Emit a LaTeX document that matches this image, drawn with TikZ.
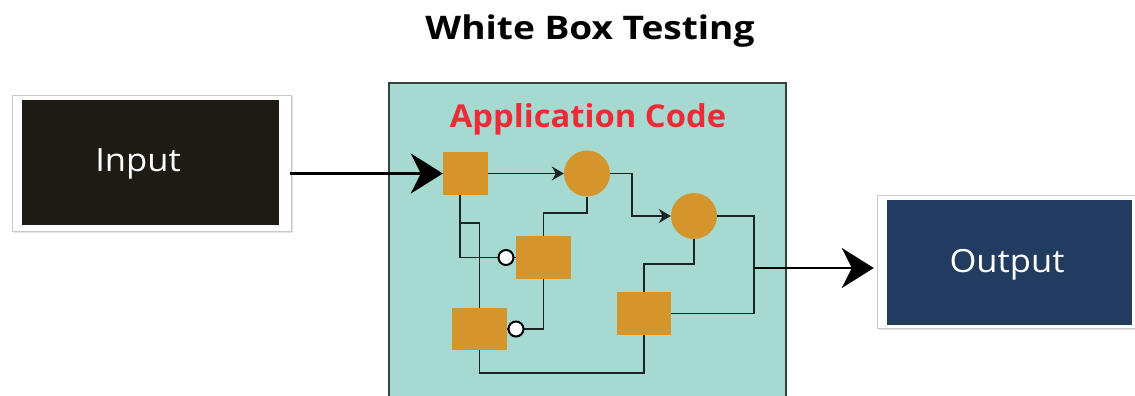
\documentclass[tikz,border=0pt]{standalone}
\usepackage{fontspec}
\setmainfont{Open Sans}
\newfontfamily\titlefont[FakeStretch=1.14]{Open Sans}
\newfontfamily\labelfont[FakeStretch=1.08]{Open Sans}
\newfontfamily\codefont[FakeStretch=1.04]{Open Sans}
\usetikzlibrary{arrows.meta,calc}
\definecolor{inbg}{HTML}{1E1B14}
\definecolor{outbg}{HTML}{213C5E}
\definecolor{panel}{HTML}{A6DAD0}
\definecolor{panelline}{HTML}{36423F}
\definecolor{block}{HTML}{D4952C}
\definecolor{wire}{HTML}{1A2422}
\definecolor{codered}{HTML}{EC2B37}
\definecolor{framegray}{HTML}{C9C9C9}
\begin{document}
\begin{tikzpicture}[x=1pt,y=-1pt,
  frame/.style={fill=white,draw=framegray,line width=0.8pt},
  ioblock/.style={rectangle,inner sep=0pt,draw=none},
  iolabel/.style={text=white,font=\labelfont\fontsize{32}{34}\selectfont,inner sep=0pt,anchor=base},
  sq/.style={rectangle,fill=block,inner sep=0pt,draw=none},
  dot/.style={circle,fill=block,inner sep=0pt,minimum size=46pt,draw=none},
  tap/.style={circle,fill=white,draw=black,line width=2pt,inner sep=0pt,minimum size=15pt},
  wireline/.style={draw=wire,line width=1.8pt},
  smallarrow/.style={wireline,-{Stealth[length=12pt,width=14pt,inset=4pt]}},
  bigarrow/.style={draw=black,line width=2.6pt,-{Stealth[length=32pt,width=40pt,inset=10pt]}}
]
\useasboundingbox (0,0) rectangle (1135,396);

% title
\node[font=\titlefont\bfseries\fontsize{32.5}{34}\selectfont,inner sep=0pt,anchor=base] (title) at (590,40) {White Box Testing};

% input block with its white frame
\fill[gray!22] (14,97) rectangle (293,233);
\draw[frame] (12,95) rectangle (291,231);
\node[ioblock,fill=inbg,minimum width=257pt,minimum height=125pt] (input) at (150.5,162.5) {};
\node[iolabel] (inputlabel) at (138,171) {Input};

% output block with its white frame
\fill[gray!22] (879,197) rectangle (1137,330);
\draw[frame] (877,195) rectangle (1140,328);
\node[ioblock,fill=outbg,minimum width=245pt,minimum height=125pt] (output) at (1009.5,262.5) {};
\node[iolabel] (outputlabel) at (1007,272) {Output};

% application code panel
\fill[panel] (389,83) rectangle (786,400);
\draw[panelline,line width=1.5pt] (389,400) -- (389,83) -- (786,83) -- (786,400);
\node[font=\codefont\bfseries\fontsize{31.5}{33}\selectfont,text=codered,inner sep=0pt,anchor=base] (applabel) at (588,127) {Application Code};

% code blocks
\node[sq,minimum width=45pt,minimum height=43pt] (A) at (465.5,173.5) {};
\node[dot] (B) at (587,173.5) {};
\node[dot] (C) at (694,216) {};
\node[sq,minimum width=55pt,minimum height=43pt] (D) at (543.5,257.5) {};
\node[sq,minimum width=55pt,minimum height=42pt] (E) at (479.5,329) {};
\node[sq,minimum width=54pt,minimum height=43pt] (F) at (644,313.5) {};

% junction points of the wiring
\coordinate (tapA) at (460,223);
\coordinate (merge) at (754,268);

% wiring
\draw[smallarrow] (A.east) -- (B.west);
\draw[smallarrow] (B.east) -- ++(22,0) |- (C.west);
\draw[wireline] ([xshift=-5.5pt]A.south) |- (D.west);
\draw[wireline] (tapA) -| (E.north);
\draw[wireline] (D.north) -- ++(0,-23) -| (B.south);
\draw[wireline] (D.south) |- (E.east);
\draw[wireline] (E.south) -- ++(0,23) -| (F.south);
\draw[wireline] (F.north) -- ++(0,-28) -| (C.south);
\draw[wireline] (C.east) -- (merge |- C.east) -- (merge |- F.east) -- (F.east);

% inverted inputs
\node[tap] (t1) at (506,257.5) {};
\node[tap] (t2) at (516,329) {};

% main flow
\draw[bigarrow] (input.east |- A.west) ++(11,0) -- (A.west);
\draw[bigarrow] (merge) -- ([xshift=-13pt]merge -| output.west);
\end{tikzpicture}
\end{document}
